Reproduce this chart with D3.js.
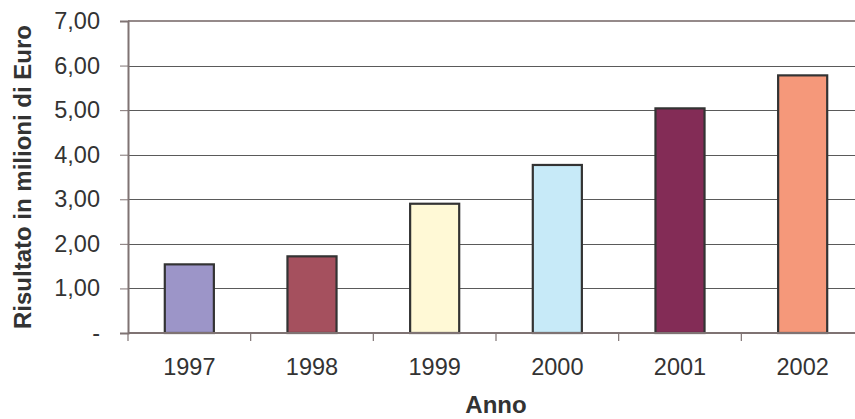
<!DOCTYPE html>
<html>
<head>
<meta charset="utf-8">
<script src="https://cdn.jsdelivr.net/npm/d3@7"></script>
<style>
  html, body { margin: 0; padding: 0; background: #fff; overflow: hidden; }
  text { font-family: "Liberation Sans", Arial, sans-serif; fill: #333; }
</style>
</head>
<body>
<div id="chart"></div>
<script>
// values (milioni di Euro)
const years = ["1997", "1998", "1999", "2000", "2001", "2002"];
const results = [1.54, 1.72, 2.90, 3.77, 5.04, 5.78];
const barColors = ["#9c95c8", "#a5505e", "#fff9d6", "#c7eaf8", "#832c56", "#f5987a"];
const yTicks = [0, 1, 2, 3, 4, 5, 6, 7];

const width = 855, height = 419;
const margin = {top: 21, right: -9, bottom: 86, left: 128};

const svg = d3.select("#chart").append("svg")
    .attr("width", width)
    .attr("height", height);

const x = d3.scaleBand()
    .domain(years)
    .range([margin.left, width - margin.right])
    .paddingInner(0.6)
    .paddingOuter(0.3);

const y = d3.scaleLinear()
    .domain([0, 7])
    .range([height - margin.bottom, margin.top]);

const fmt = v => v === 0 ? "-" : d3.format(".2f")(v).replace(".", ",");

// gridlines
svg.append("g")
    .selectAll("line")
    .data(yTicks.filter(d => d > 0 && d < 7))
    .join("line")
    .attr("x1", margin.left)
    .attr("x2", width)
    .attr("y1", d => Math.round(y(d)) + 0.5)
    .attr("y2", d => Math.round(y(d)) + 0.5)
    .attr("stroke", "#5a5a5a")
    .attr("stroke-width", 1);

// top border of the plot area
svg.append("line")
    .attr("x1", margin.left)
    .attr("x2", width)
    .attr("y1", y(7))
    .attr("y2", y(7))
    .attr("stroke", "#958a8a")
    .attr("stroke-width", 2);

// bars
svg.append("g")
    .selectAll("rect")
    .data(results)
    .join("rect")
    .attr("x", (d, i) => x(years[i]))
    .attr("y", d => y(d))
    .attr("width", x.bandwidth())
    .attr("height", d => y(0) - y(d))
    .attr("fill", (d, i) => barColors[i])
    .attr("stroke", "#333")
    .attr("stroke-width", 2.2);

// y axis
const yAxis = svg.append("g")
    .attr("transform", `translate(${margin.left},0)`)
    .call(d3.axisLeft(y).tickValues(yTicks).tickFormat(fmt).tickSize(8).tickPadding(20));
yAxis.select(".domain").attr("stroke", "#7f7373").attr("stroke-width", 2);
yAxis.selectAll(".tick line").attr("stroke", "#7f7373");
yAxis.selectAll(".tick text")
    .attr("font-size", 23.5)
    .attr("fill", "#333")
    .style("font-family", "Liberation Sans, Arial, sans-serif");

// x axis: ticks sit between the categories
const xAxis = svg.append("g")
    .attr("transform", `translate(0,${y(0)})`);
xAxis.append("line")
    .attr("x1", margin.left)
    .attr("x2", width)
    .attr("stroke", "#7f7373")
    .attr("stroke-width", 2);
xAxis.selectAll(".sep")
    .data(years)
    .join("line")
    .attr("class", "sep")
    .attr("x1", d => x(d) - x.bandwidth() * 0.75)
    .attr("x2", d => x(d) - x.bandwidth() * 0.75)
    .attr("y1", 0)
    .attr("y2", 8)
    .attr("stroke", "#7f7373")
    .attr("stroke-width", 1.2);
xAxis.selectAll(".lbl")
    .data(years)
    .join("text")
    .attr("class", "lbl")
    .attr("x", d => x(d) + x.bandwidth() / 2)
    .attr("y", 42)
    .attr("text-anchor", "middle")
    .attr("font-size", 23.5)
    .text(d => d);

// axis titles
svg.append("text")
    .attr("x", 496)
    .attr("y", 413)
    .attr("text-anchor", "middle")
    .attr("font-size", 24)
    .attr("font-weight", "bold")
    .text("Anno");

svg.append("text")
    .attr("transform", `translate(31,${(margin.top + y(0)) / 2}) rotate(-90)`)
    .attr("text-anchor", "middle")
    .attr("font-size", 24)
    .attr("font-weight", "bold")
    .text("Risultato in milioni di Euro");
</script>
</body>
</html>
